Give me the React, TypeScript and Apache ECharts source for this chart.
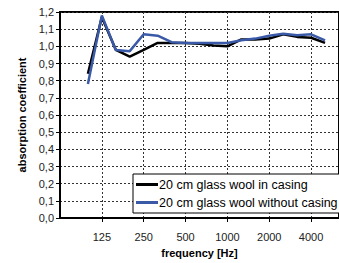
import React, { useEffect, useRef } from "react";
import * as echarts from "echarts";

const frequencies = ["63", "80", "100", "125", "160", "200", "250", "315", "400", "500", "630", "800", "1000", "1250", "1600", "2000", "2500", "3150", "4000", "5000", "6300"];
const xTickLabels = ["125", "250", "500", "1000", "2000", "4000"];
const inCasing = [null, null, 0.84, 1.17, 0.98, 0.94, 0.98, 1.02, 1.02, 1.02, 1.015, 1.005, 1.0, 1.04, 1.04, 1.045, 1.07, 1.055, 1.05, 1.02, null];
const withoutCasing = [null, null, 0.78, 1.18, 0.978, 0.972, 1.07, 1.062, 1.024, 1.02, 1.02, 1.02, 1.02, 1.035, 1.045, 1.062, 1.073, 1.064, 1.07, 1.035, null];
const seriesNames = ["20 cm glass wool in casing", "20 cm glass wool without casing"];

const FONT = "'Liberation Sans', Arial, sans-serif";

export default function App() {
  const ref = useRef<HTMLDivElement>(null);
  useEffect(() => {
    if (!ref.current) return;
    const chart = echarts.init(ref.current, null, { renderer: "svg" });
    const showAt = (_i: number, v: string) => xTickLabels.includes(v);
    chart.setOption({
      animation: false,
      backgroundColor: "#ffffff",
      textStyle: { fontFamily: FONT },
      grid: {
        left: 60,
        top: 12,
        right: -10,
        bottom: 42,
        show: true,
        borderColor: "#000",
        borderWidth: 2,
        backgroundColor: "transparent",
      },
      legend: {
        orient: "vertical",
        left: 133,
        top: 174,
        data: seriesNames,
        backgroundColor: "#fff",
        borderColor: "#000",
        borderWidth: 1,
        borderRadius: 0,
        padding: [4, 4, 4, 3],
        itemGap: 5,
        itemWidth: 22,
        itemHeight: 3,
        icon: "rect",
        textStyle: { fontFamily: FONT, fontSize: 12.5, color: "#000", padding: [0, 0, 0, -4] },
      },
      xAxis: {
        type: "category",
        data: frequencies,
        boundaryGap: false,
        name: "frequency [Hz]",
        nameLocation: "middle",
        nameGap: 29,
        nameTextStyle: { fontFamily: FONT, fontSize: 11, fontWeight: "bold", color: "#000" },
        axisLine: { show: true, lineStyle: { color: "#000", width: 2 } },
        axisTick: { show: true, interval: showAt, length: 4, lineStyle: { color: "#000" } },
        axisLabel: { interval: showAt, margin: 13, fontSize: 11, color: "#222", fontFamily: FONT },
        splitLine: { show: true, interval: showAt, lineStyle: { color: "#333", type: [2, 2], width: 1 } },
      },
      yAxis: {
        type: "value",
        min: 0,
        max: 1.2,
        interval: 0.1,
        name: "absorption coefficient",
        nameLocation: "middle",
        nameGap: 33,
        nameTextStyle: { fontFamily: FONT, fontSize: 11, fontWeight: "bold", color: "#000" },
        axisLine: { show: true, lineStyle: { color: "#000", width: 2 } },
        axisTick: { show: true, length: 4, lineStyle: { color: "#000" } },
        axisLabel: {
          margin: 6,
          fontSize: 11,
          color: "#222",
          fontFamily: FONT,
          formatter: (v: number) => v.toFixed(1).replace(".", ","),
        },
        splitLine: { show: true, lineStyle: { color: "#333", type: [2, 2], width: 1 } },
      },
      series: [
        {
          name: seriesNames[0],
          type: "line",
          data: inCasing,
          symbol: "none",
          connectNulls: false,
          lineStyle: { color: "#000", width: 2.5 },
          itemStyle: { color: "#000" },
        },
        {
          name: seriesNames[1],
          type: "line",
          data: withoutCasing,
          symbol: "none",
          connectNulls: false,
          lineStyle: { color: "#3a5aa8", width: 2.5 },
          itemStyle: { color: "#3a5aa8" },
        },
      ],
    });
    return () => chart.dispose();
  }, []);
  return <div ref={ref} style={{ position: "fixed", left: 0, top: 0, width: 339, height: 263 }} />;
}
